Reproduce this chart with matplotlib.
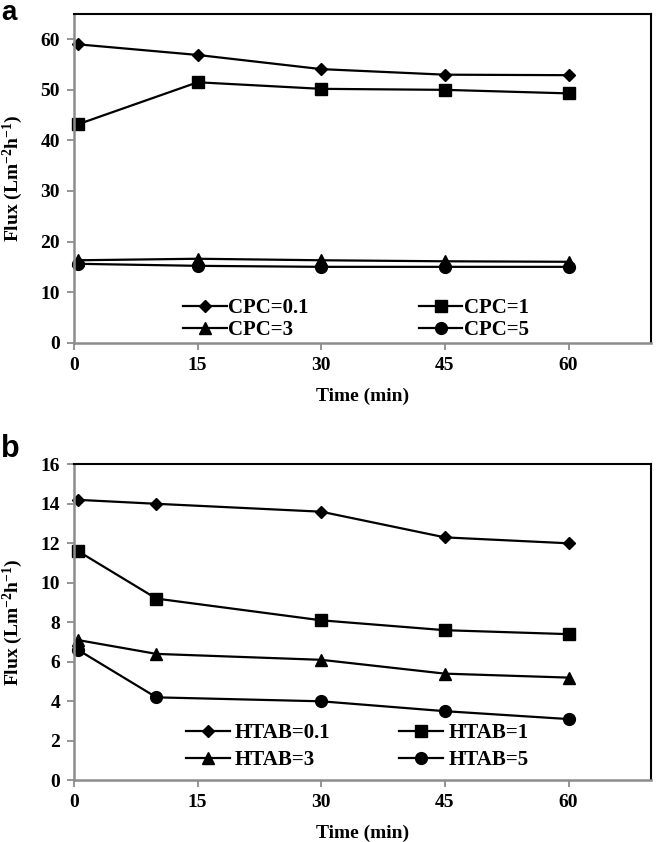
import matplotlib
matplotlib.use("Agg")
import matplotlib.pyplot as plt

# panel a: CPC
t_cpc = [0.5, 15, 30, 45, 60]
cpc_01 = [59.0, 56.9, 54.1, 53.0, 52.9]
cpc_1 = [43.2, 51.5, 50.2, 50.0, 49.3]
cpc_3 = [16.3, 16.6, 16.3, 16.1, 16.0]
cpc_5 = [15.6, 15.2, 15.0, 15.0, 15.0]

# panel b: HTAB
t_htab = [0.5, 10, 30, 45, 60]
htab_01 = [14.2, 14.0, 13.6, 12.3, 12.0]
htab_1 = [11.6, 9.2, 8.1, 7.6, 7.4]
htab_3 = [7.1, 6.4, 6.1, 5.4, 5.2]
htab_5 = [6.6, 4.2, 4.0, 3.5, 3.1]

xticks = [0, 15, 30, 45, 60]

plt.rcParams['font.family'] = ['Liberation Serif', 'DejaVu Serif']
plt.rcParams['font.weight'] = 'bold'
plt.rcParams['mathtext.default'] = 'regular'

W, H = 656, 842
fig = plt.figure(figsize=(W / 100, H / 100), dpi=100)

def px_axes(left, top, right, bottom):
    return fig.add_axes([left / W, 1 - bottom / H, (right - left) / W, (bottom - top) / H])

markers = [dict(marker='D', ms=5.8), dict(marker='s', ms=8.3),
           dict(marker='^', ms=9), dict(marker='o', ms=8.5)]

def style_axes(ax, ymax, ystep, ytop):
    ax.set_xlim(0, 70)
    ax.set_ylim(0, ymax)
    ax.set_xticks(xticks)
    ax.set_yticks(range(0, ytop + 1, ystep))
    for s in ['top', 'right']:
        ax.spines[s].set_color('black')
        ax.spines[s].set_linewidth(1.5)
    for s in ['left', 'bottom']:
        ax.spines[s].set_color('#8c8c8c')
        ax.spines[s].set_linewidth(1.8)
    ax.tick_params(axis='both', direction='out', length=5, width=1.3, color='#8c8c8c',
                   labelsize=14, pad=5)
    ax.set_xlabel('Time (min)', fontsize=14, fontweight='bold', labelpad=10)
    ax.set_ylabel('Flux (Lm$^{-2}$h$^{-1}$)', fontsize=14, fontweight='bold')
    ax.yaxis.set_label_coords(-(74 - 25) / 577, 0.5)

def draw(ax, t, series, labels, anchor, colsp, textpad, labsp):
    handles = []
    for y, lab, mk in zip(series, labels, markers):
        h, = ax.plot(t, y, color='black', lw=1.6, mec='black', mfc='black', label=lab,
                     clip_on=False, **mk)
        handles.append(h)
    order = [0, 2, 1, 3]
    ax.legend([handles[i] for i in order], [labels[i] for i in order], ncol=2,
              frameon=False, loc='upper left', bbox_to_anchor=anchor,
              bbox_transform=fig.transFigure, fontsize=15, handlelength=2.1,
              handletextpad=textpad, columnspacing=colsp, labelspacing=labsp,
              borderpad=0, borderaxespad=0)

ax1 = px_axes(74, 14, 651, 342.7)
draw(ax1, t_cpc, [cpc_01, cpc_1, cpc_3, cpc_5],
     ['CPC=0.1', 'CPC=1', 'CPC=3', 'CPC=5'],
     (183 / W, 1 - 298 / H), 5.3, 0.05, 0.1)
style_axes(ax1, 65, 10, 60)

ax2 = px_axes(74, 464.3, 651, 780.3)
draw(ax2, t_htab, [htab_01, htab_1, htab_3, htab_5],
     ['HTAB=0.1', 'HTAB=1', 'HTAB=3', 'HTAB=5'],
     (186 / W, 1 - 723.5 / H), 3.3, 0.25, 0.32)
style_axes(ax2, 16, 2, 16)

fig.text(1 / W, 1 - 0.5 / H, 'a', family='Liberation Sans', fontweight='bold',
         fontsize=20, va='top', ha='left')
fig.text(1 / W, 1 - 457 / H, 'b', family='Liberation Sans', fontweight='bold',
         fontsize=22, va='baseline', ha='left')

fig.savefig('out.png', dpi=100)
